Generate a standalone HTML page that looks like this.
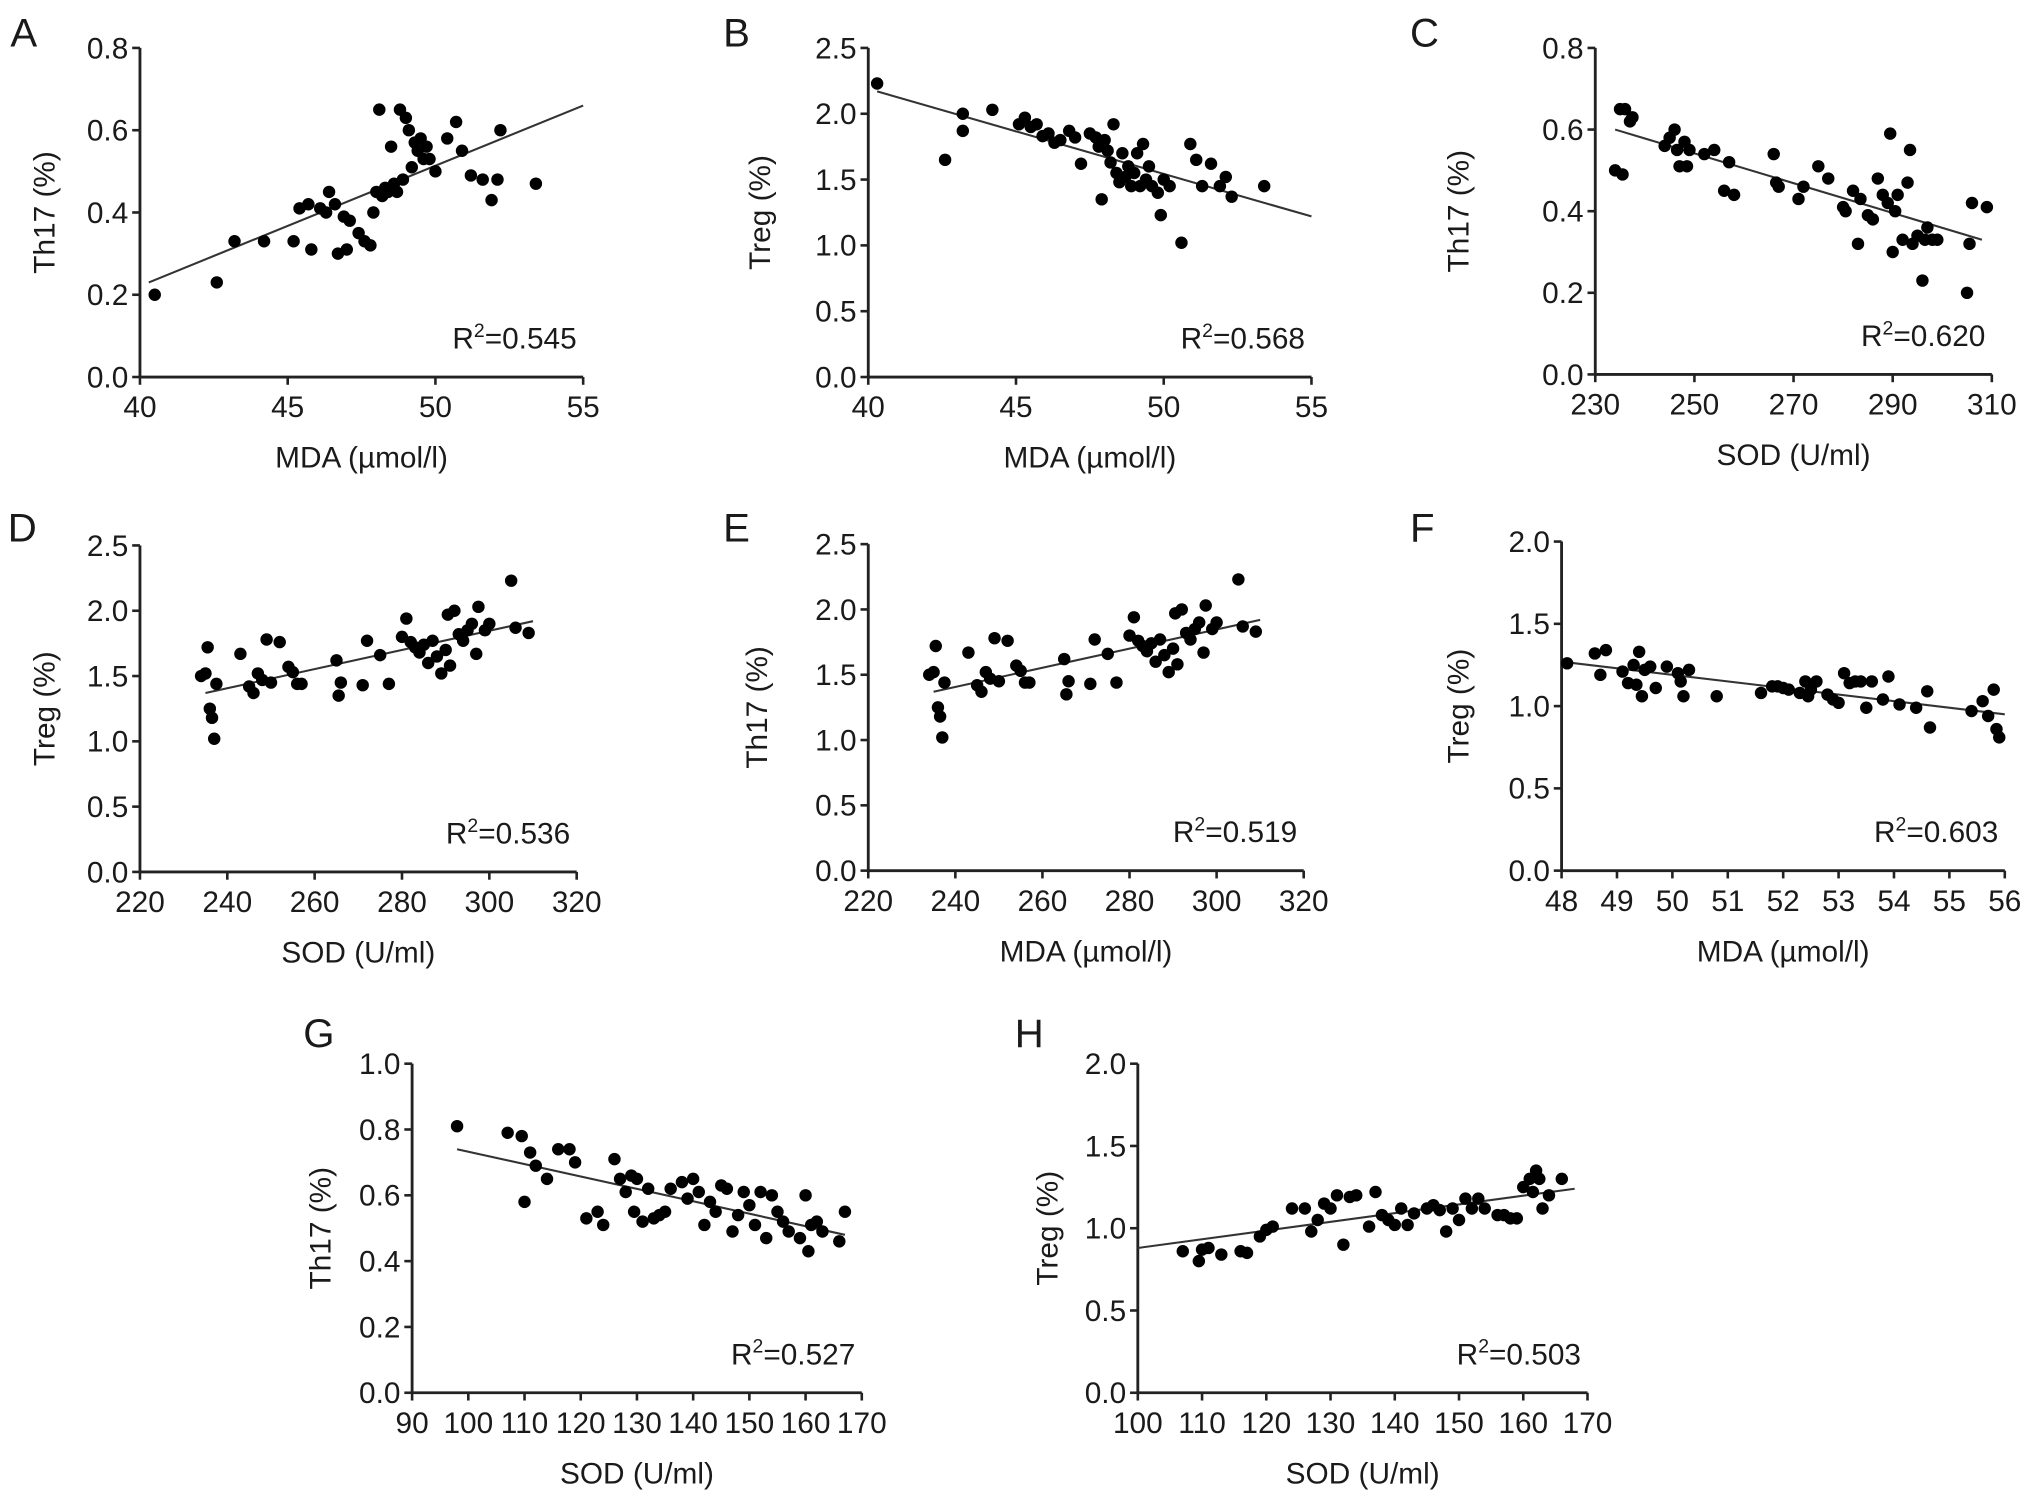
<!DOCTYPE html>
<html><head><meta charset="utf-8"><style>
html,body{margin:0;padding:0;background:#fff;}
svg{display:block;}
text{font-family:"Liberation Sans",Arial,sans-serif;fill:#1a1a1a;}
</style></head><body>
<svg id="fig" width="2032" height="1499" viewBox="0 0 1568 1157" preserveAspectRatio="none" xmlns="http://www.w3.org/2000/svg"></svg>
<script>
const aX=[40.5,42.6,43.2,44.2,45.2,45.4,45.7,45.8,46.1,46.3,46.4,46.6,46.7,46.9,47.0,47.1,47.4,47.6,47.8,47.9,48.0,48.1,48.2,48.3,48.4,48.5,48.6,48.7,48.8,48.9,49.0,49.1,49.2,49.3,49.4,49.5,49.6,49.7,49.8,50.0,50.4,50.7,50.9,51.2,51.6,51.9,52.1,52.2,53.4];
const aY=[0.20,0.23,0.33,0.33,0.33,0.41,0.42,0.31,0.41,0.40,0.45,0.42,0.30,0.39,0.31,0.38,0.35,0.33,0.32,0.40,0.45,0.65,0.44,0.46,0.45,0.56,0.47,0.45,0.65,0.48,0.63,0.60,0.51,0.57,0.55,0.58,0.53,0.56,0.53,0.50,0.58,0.62,0.55,0.49,0.48,0.43,0.48,0.60,0.47];
const bX=[40.3,42.6,43.2,43.2,44.2,45.1,45.3,45.5,45.7,45.9,46.1,46.3,46.5,46.8,47.0,47.2,47.5,47.7,47.8,47.9,48.0,48.1,48.2,48.3,48.4,48.5,48.6,48.7,48.8,48.9,49.0,49.1,49.2,49.3,49.4,49.5,49.6,49.8,49.9,50.0,50.2,50.6,50.9,51.1,51.3,51.6,51.9,52.1,52.3,53.4];
const bY=[2.23,1.65,1.87,2.00,2.03,1.92,1.97,1.90,1.92,1.83,1.85,1.78,1.80,1.87,1.82,1.62,1.85,1.82,1.75,1.35,1.80,1.72,1.63,1.92,1.55,1.48,1.70,1.52,1.60,1.45,1.55,1.70,1.45,1.77,1.50,1.60,1.45,1.40,1.23,1.50,1.45,1.02,1.77,1.65,1.45,1.62,1.45,1.52,1.37,1.45];
const cX=[234,235,235.5,236,237,237.5,244,245,246,246.5,247,248,248.5,249,252,254,256,257,258,266,266.5,267,271,272,275,277,280,280.5,282,283,283.5,285,286,287,288,289,289.5,290,290.5,291,292,293,293.5,294,295,296,296.5,297,298,299,305,305.5,306,309];
const cY=[0.50,0.65,0.49,0.65,0.62,0.63,0.56,0.58,0.60,0.55,0.51,0.57,0.51,0.55,0.54,0.55,0.45,0.52,0.44,0.54,0.47,0.46,0.43,0.46,0.51,0.48,0.41,0.40,0.45,0.32,0.43,0.39,0.38,0.48,0.44,0.42,0.59,0.30,0.40,0.44,0.33,0.47,0.55,0.32,0.34,0.23,0.33,0.36,0.33,0.33,0.20,0.32,0.42,0.41];
const dX=[234,235,235.5,236,236.5,237,237.5,243,245,246,247,248,249,250,252,254,255,256,257,265,265.5,266,271,272,275,277,280,281,282,283,284,285,286,287,288,289,290,290.5,291,292,293,294,295,296,297,297.5,299,300,305,306,309];
const dY=[1.50,1.52,1.72,1.25,1.18,1.02,1.44,1.67,1.42,1.37,1.52,1.47,1.78,1.45,1.76,1.57,1.53,1.44,1.44,1.62,1.35,1.45,1.43,1.77,1.66,1.44,1.80,1.94,1.76,1.72,1.68,1.74,1.60,1.77,1.65,1.52,1.70,1.97,1.58,2.00,1.82,1.77,1.85,1.90,1.67,2.03,1.85,1.90,2.23,1.87,1.83];
const eX=dX.slice();
const eY=dY.slice();
const fX=[48.1,48.6,48.7,48.8,49.1,49.2,49.3,49.35,49.4,49.45,49.5,49.6,49.7,49.9,50.1,50.15,50.2,50.3,50.8,51.6,51.8,51.9,52.0,52.1,52.3,52.4,52.45,52.5,52.6,52.8,52.9,53.0,53.1,53.2,53.3,53.4,53.5,53.6,53.8,53.9,54.1,54.4,54.6,54.65,55.4,55.6,55.7,55.8,55.85,55.9];
const fY=[1.26,1.32,1.19,1.34,1.21,1.14,1.25,1.13,1.33,1.06,1.22,1.24,1.11,1.24,1.20,1.15,1.06,1.22,1.06,1.08,1.12,1.12,1.11,1.10,1.08,1.15,1.06,1.10,1.15,1.07,1.04,1.02,1.20,1.14,1.15,1.15,0.99,1.15,1.04,1.18,1.01,0.99,1.09,0.87,0.97,1.03,0.94,1.10,0.86,0.81];
const gX=[98,107,109.5,110,111,112,114,116,118,119,121,123,124,126,127,128,129,129.5,130,131,132,133,134,135,136,138,139,140,141,142,143,144,145,146,147,148,149,150,151,152,153,154,155,156,157,159,160,160.5,161,162,163,166,167];
const gY=[0.81,0.79,0.78,0.58,0.73,0.69,0.65,0.74,0.74,0.70,0.53,0.55,0.51,0.71,0.65,0.61,0.66,0.55,0.65,0.52,0.62,0.53,0.54,0.55,0.62,0.64,0.59,0.65,0.61,0.51,0.58,0.55,0.63,0.62,0.49,0.54,0.61,0.57,0.51,0.61,0.47,0.60,0.55,0.52,0.49,0.47,0.60,0.43,0.51,0.52,0.49,0.46,0.55];
const hX=[107,109.5,110,111,113,116,117,119,120,121,124,126,127,128,129,130,131,132,133,134,136,137,138,139,140,141,142,143,145,146,147,148,149,150,151,152,153,154,156,157,158,159,160,161,161.5,162,162.5,163,164,166];
const hY=[0.86,0.80,0.87,0.88,0.84,0.86,0.85,0.95,0.99,1.01,1.12,1.12,0.98,1.05,1.15,1.12,1.20,0.90,1.19,1.20,1.01,1.22,1.08,1.05,1.02,1.12,1.02,1.09,1.12,1.14,1.11,0.98,1.12,1.05,1.18,1.12,1.18,1.12,1.08,1.08,1.06,1.06,1.25,1.30,1.22,1.35,1.30,1.12,1.20,1.30];
const xTicksMDA=[40,45,50,55];
const xTicksSOD1=[230,250,270,290,310];
const xTicksSOD2=[220,240,260,280,300,320];
const xTicksF=[48,49,50,51,52,53,54,55,56];
const xTicksG=[90,100,110,120,130,140,150,160,170];
const xTicksH=[100,110,120,130,140,150,160,170];
const yT08=[0.0,0.2,0.4,0.6,0.8];
const yT25=[0.0,0.5,1.0,1.5,2.0,2.5];
const yT20=[0.0,0.5,1.0,1.5,2.0];
const yT10=[0.0,0.2,0.4,0.6,0.8,1.0];
const fitA=[40.3,0.23,55,0.66], fitB=[40.3,2.17,55,1.22], fitC=[234,0.60,308,0.33], fitD=[235,1.37,310,1.92], fitF=[48,1.27,56,0.95], fitG=[98,0.74,167,0.48], fitH=[100,0.88,168,1.24];
const r2=["0.545","0.568","0.620","0.536","0.519","0.603","0.527","0.503"];

const panels=[
 {id:'a',L:'A',lx:8,ly:36,x0:108,x1:450,y0:291,y1:37,xd:[40,55],yd:[0,0.8],xt:xTicksMDA,yt:yT08,X:aX,Y:aY,fit:fitA,xl:'MDA (\u00b5mol/l)',yl:'Th17 (%)',ylx:42,r:r2[0]},
 {id:'b',L:'B',lx:558,ly:36,x0:670,x1:1012,y0:291,y1:37,xd:[40,55],yd:[0,2.5],xt:xTicksMDA,yt:yT25,X:bX,Y:bY,fit:fitB,xl:'MDA (\u00b5mol/l)',yl:'Treg (%)',ylx:594,r:r2[1]},
 {id:'c',L:'C',lx:1088,ly:36,x0:1231,x1:1537,y0:289,y1:37,xd:[230,310],yd:[0,0.8],xt:xTicksSOD1,yt:yT08,X:cX,Y:cY,fit:fitC,xl:'SOD (U/ml)',yl:'Th17 (%)',ylx:1133,r:r2[2]},
 {id:'d',L:'D',lx:6,ly:418,x0:108,x1:445,y0:673,y1:421,xd:[220,320],yd:[0,2.5],xt:xTicksSOD2,yt:yT25,X:dX,Y:dY,fit:fitD,xl:'SOD (U/ml)',yl:'Treg (%)',ylx:42,r:r2[3]},
 {id:'e',L:'E',lx:558,ly:418,x0:670,x1:1006,y0:672,y1:420,xd:[220,320],yd:[0,2.5],xt:xTicksSOD2,yt:yT25,X:eX,Y:eY,fit:fitD,xl:'MDA (\u00b5mol/l)',yl:'Th17 (%)',ylx:592,r:r2[4]},
 {id:'f',L:'F',lx:1088,ly:418,x0:1205,x1:1547,y0:672,y1:418,xd:[48,56],yd:[0,2.0],xt:xTicksF,yt:yT20,X:fX,Y:fY,fit:fitF,xl:'MDA (\u00b5mol/l)',yl:'Treg (%)',ylx:1133,r:r2[5]},
 {id:'g',L:'G',lx:234,ly:808,x0:318,x1:665,y0:1075,y1:821,xd:[90,170],yd:[0,1.0],xt:xTicksG,yt:yT10,X:gX,Y:gY,fit:fitG,xl:'SOD (U/ml)',yl:'Th17 (%)',ylx:255,r:r2[6]},
 {id:'h',L:'H',lx:783,ly:808,x0:878,x1:1225,y0:1075,y1:821,xd:[100,170],yd:[0,2.0],xt:xTicksH,yt:yT20,X:hX,Y:hY,fit:fitH,xl:'SOD (U/ml)',yl:'Treg (%)',ylx:816,r:r2[7]}
];
const NS='http://www.w3.org/2000/svg';
const svg=document.getElementById('fig');
function mk(tag,attrs,parent){const e=document.createElementNS(NS,tag);for(const k in attrs)e.setAttribute(k,attrs[k]);parent.appendChild(e);return e;}
panels.forEach(p=>{
 const g=mk('g',{},svg);
 
 
 const sx=v=>p.x0+(v-p.xd[0])/(p.xd[1]-p.xd[0])*(p.x1-p.x0);
 const sy=v=>p.y0+(v-p.yd[0])/(p.yd[1]-p.yd[0])*(p.y1-p.y0);
 const lt=mk('text',{x:p.lx,y:p.ly,'font-size':31},g);lt.textContent=p.L;
 
 
 const ya=mk('line',{x1:p.x0,y1:p.y0,x2:p.x0,y2:p.y1,stroke:'#222','stroke-width':2.2},g);
 
 
 const xa=mk('line',{x1:p.x0,y1:p.y0,x2:p.x1,y2:p.y0,stroke:'#222','stroke-width':2.2},g);
 
 
 p.yt.forEach(v=>{const y=sy(v);mk('line',{x1:p.x0-6,y1:y,x2:p.x0,y2:y,stroke:'#222','stroke-width':2},g);
  const t=mk('text',{x:p.x0-9,y:y+8,'font-size':23,'text-anchor':'end'},g);t.textContent=v.toFixed(1);
  
  });
 p.xt.forEach(v=>{const x=sx(v);mk('line',{x1:x,y1:p.y0,x2:x,y2:p.y0+6,stroke:'#222','stroke-width':2},g);
  const t=mk('text',{x:x,y:p.y0+31,'font-size':23,'text-anchor':'middle'},g);t.textContent=v;
  
  });
 const xt=mk('text',{x:(p.x0+p.x1)/2,y:p.y0+70,'font-size':23,'text-anchor':'middle'},g);xt.textContent=p.xl;
 
 
 const yc=(p.y0+p.y1)/2;
 const yt=mk('text',{x:p.ylx,y:yc,'font-size':23,'text-anchor':'middle',transform:'rotate(-90 '+p.ylx+' '+yc+')'},g);yt.textContent=p.yl;
 
 
 const f=p.fit;
 const fl=mk('line',{x1:sx(f[0]),y1:sy(f[1]),x2:sx(f[2]),y2:sy(f[3]),stroke:'#333','stroke-width':1.6},g);
 
 
 p.X.forEach((v,i)=>{const c=mk('circle',{cx:sx(v),cy:sy(p.Y[i]),r:4.8,fill:'#000'},g);
  
  });
 const rt=mk('text',{x:p.x1-5,y:p.y0-22,'font-size':23,'text-anchor':'end'},g);
 
 
 const t1=mk('tspan',{},rt);t1.textContent='R';
 const t2=mk('tspan',{dy:-9,'font-size':15},rt);t2.textContent='2';
 const t3=mk('tspan',{dy:9},rt);t3.textContent='='+p.r;
});
</script>
</body></html>
